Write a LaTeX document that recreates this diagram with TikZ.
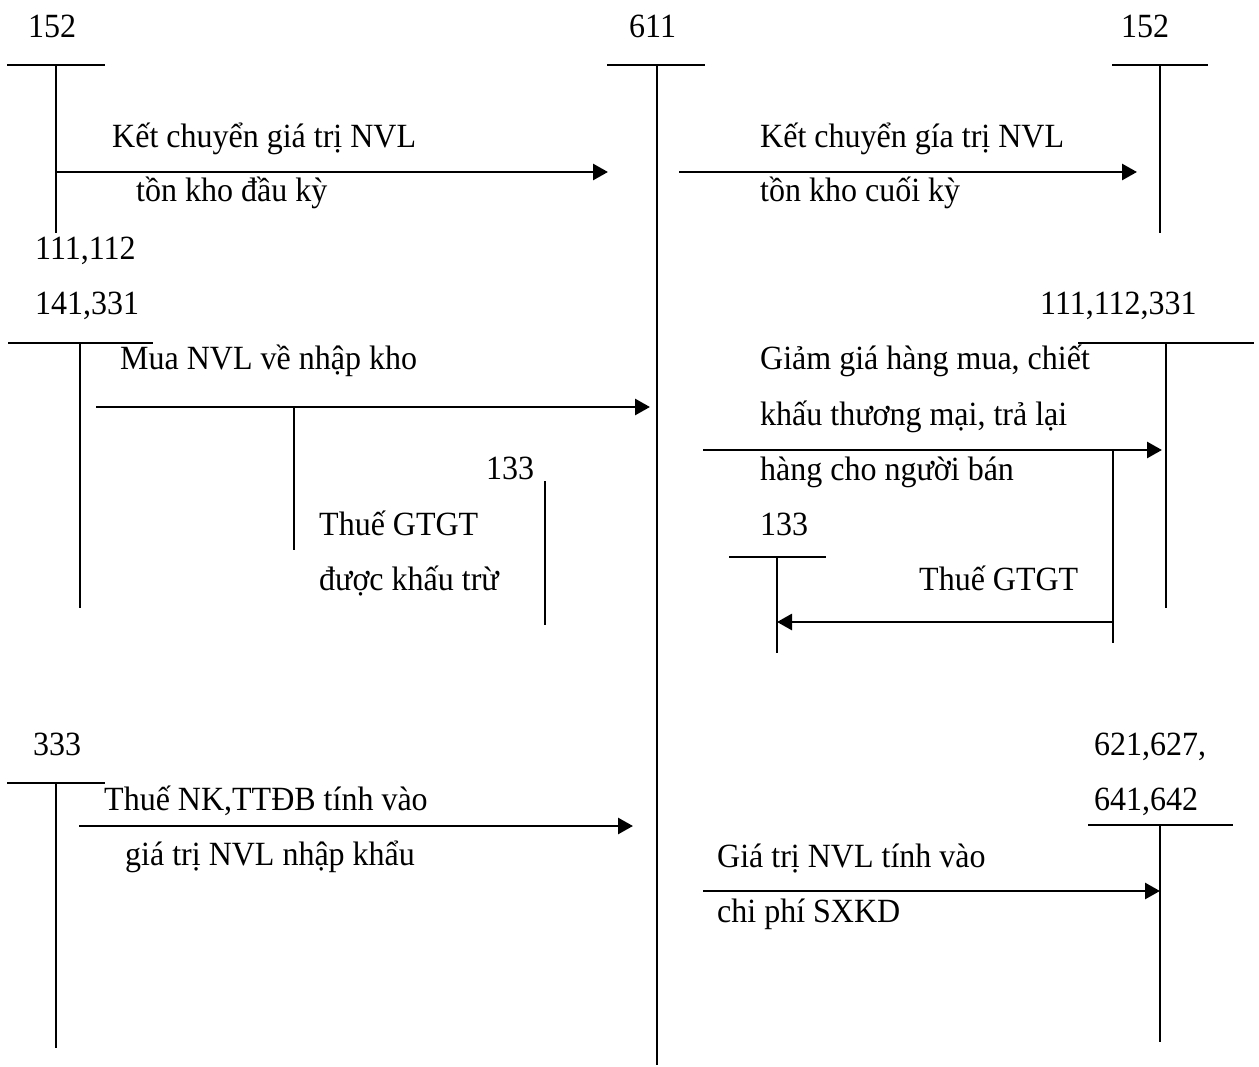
\documentclass[tikz,border=0pt]{standalone}
\usepackage{fontspec}
\usepackage{graphicx}
\setmainfont{Liberation Serif}
\usetikzlibrary{arrows.meta}
\newcommand{\tallt}[1]{\scalebox{1}[1.06]{#1}}
\begin{document}
\begin{tikzpicture}[x=1pt,y=-1pt,
  tline/.style={line width=1.8pt},
  arr/.style={line width=2.8pt,-{Triangle[length=15pt,width=16pt]}},
  lbl/.style={anchor=base west,inner sep=0pt,font=\fontsize{32}{38}\selectfont}]
\useasboundingbox[fill=white] (0,0) rectangle (1259,1067);

% ---------- account labels ----------
\node[lbl] (t152L) at (28,38) {\tallt{152}};
\node[lbl] (t611) at (629,38) {\tallt{611}};
\node[lbl] (t152R) at (1121,38) {\tallt{152}};
\node[lbl] (t111a) at (35,260) {\tallt{111,112}};
\node[lbl] (t141) at (35,315) {\tallt{141,331}};
\node[lbl] (t111R) at (1040,315) {\tallt{111,112,331}};
\node[lbl] (t133L) at (486,479) {\tallt{133}};
\node[lbl] (t133R) at (760,535) {\tallt{133}};
\node[lbl] (t333) at (33,755) {\tallt{333}};
\node[lbl] (t621) at (1094,755) {\tallt{621,627,}};
\node[lbl] (t641) at (1094,810) {\tallt{641,642}};

% ---------- entry labels ----------
\node[lbl] (l1a) at (112,148) {\tallt{Kết chuyển giá trị NVL}};
\node[lbl] (l1b) at (136,202) {\tallt{tồn kho đầu kỳ}};
\node[lbl] (l2a) at (760,148) {\tallt{Kết chuyển gía trị NVL}};
\node[lbl] (l2b) at (760,202) {\tallt{tồn kho cuối kỳ}};
\node[lbl] (l3) at (120,370) {\tallt{Mua NVL về nhập kho}};
\node[lbl] (l4a) at (319,535) {\tallt{Thuế GTGT}};
\node[lbl] (l4b) at (319,590) {\tallt{được khấu trừ}};
\node[lbl] (l5a) at (760,370) {\tallt{Giảm giá hàng mua, chiết}};
\node[lbl] (l5b) at (760,425) {\tallt{khấu thương mại, trả lại}};
\node[lbl] (l5c) at (760,480) {\tallt{hàng cho người bán}};
\node[lbl] (l6) at (919,590) {\tallt{Thuế GTGT}};
\node[lbl] (l7a) at (104,810) {\tallt{Thuế NK,TTĐB tính vào}};
\node[lbl] (l7b) at (125,865) {\tallt{giá trị NVL nhập khẩu}};
\node[lbl] (l8a) at (717,867) {\tallt{Giá trị NVL tính vào}};
\node[lbl] (l8b) at (717,922) {\tallt{chi phí SXKD}};

% ---------- T-account geometry ----------
% 152 left
\coordinate (A1l) at (7,65);   \coordinate (A1r) at (105,65);
\coordinate (A1t) at (56,65);  \coordinate (A1b) at (56,233);
% 611
\coordinate (A2l) at (607,65); \coordinate (A2r) at (705,65);
\coordinate (A2t) at (657,65); \coordinate (A2b) at (657,1065);
% 152 right
\coordinate (A3l) at (1112,65); \coordinate (A3r) at (1208,65);
\coordinate (A3t) at (1160,65); \coordinate (A3b) at (1160,233);
% 111,112 / 141,331
\coordinate (A4l) at (8,343);  \coordinate (A4r) at (153,343);
\coordinate (A4t) at (80,343); \coordinate (A4b) at (80,608);
% 133 left (no top bar)
\coordinate (A5t) at (545,481); \coordinate (A5b) at (545,625);
% 111,112,331 right
\coordinate (A6l) at (1078,343); \coordinate (A6r) at (1254,343);
\coordinate (A6t) at (1166,343); \coordinate (A6b) at (1166,608);
% 133 right
\coordinate (A7l) at (729,557); \coordinate (A7r) at (826,557);
\coordinate (A7t) at (777,557); \coordinate (A7b) at (777,653);
% 333
\coordinate (A8l) at (7,783);  \coordinate (A8r) at (105,783);
\coordinate (A8t) at (56,783); \coordinate (A8b) at (56,1048);
% 621..642
\coordinate (A9l) at (1088,825); \coordinate (A9r) at (1233,825);
\coordinate (A9t) at (1160,825); \coordinate (A9b) at (1160,1042);

\foreach \k in {1,2,3,4,6,7,8,9}{
  \draw[tline] (A\k l) -- (A\k r);
  \draw[tline] (A\k t) -- (A\k b);
}
\draw[tline] (A5t) -- (A5b);

% ---------- arrow end points ----------
\coordinate (s1) at (56,172);   \coordinate (e1) at (608,172);
\coordinate (s2) at (679,172);  \coordinate (e2) at (1137,172);
\coordinate (s3) at (96,407);   \coordinate (e3) at (650,407);
\coordinate (b3) at (294,407);  \coordinate (b3e) at (294,550);
\coordinate (s4) at (703,450);  \coordinate (e4) at (1162,450);
\coordinate (b4) at (1113,450); \coordinate (b4e) at (1113,643);
\coordinate (s5) at (1113,622); \coordinate (e5) at (777,622);
\coordinate (s6) at (79,826);   \coordinate (e6) at (633,826);
\coordinate (s7) at (703,891);  \coordinate (e7) at (1160,891);

\draw[arr] (s1) -- (e1);
\draw[arr] (s2) -- (e2);
\draw[arr] (s3) -- (e3);
\draw[tline] (b3) -- (b3e);
\draw[arr] (s4) -- (e4);
\draw[tline] (b4) -- (b4e);
\draw[arr] (s5) -- (e5);
\draw[arr] (s6) -- (e6);
\draw[arr] (s7) -- (e7);
\end{tikzpicture}
\end{document}
